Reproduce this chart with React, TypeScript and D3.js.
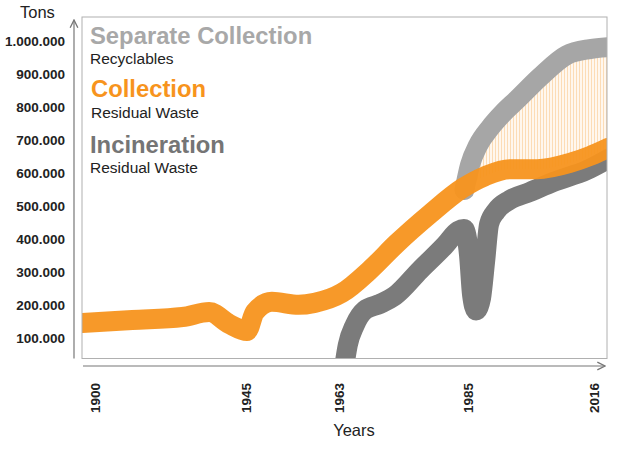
import * as d3 from 'd3';
import React from 'react';

const WIDTH = 620;
const HEIGHT = 449;
const FONT = '"Liberation Sans", Arial, sans-serif';

const yearTicks = [1900, 1945, 1963, 1985, 2016];
const tonTicks = [100000, 200000, 300000, 400000, 500000, 600000, 700000, 800000, 900000, 1000000];

// Collection – residual waste
const collectionYears = [1896, 1911, 1926, 1934, 1940, 1945.2, 1946.7, 1950, 1955.2, 1958.3, 1963.5, 1968.3, 1972.9, 1978.5, 1984.1, 1989.2, 1995.3, 2002, 2010.1, 2015, 2019.4];
const collectionTons = [147000, 156000, 165000, 180000, 144000, 123000, 180000, 211000, 202000, 208000, 238000, 308000, 389000, 477000, 556000, 592000, 613000, 613000, 632000, 653000, 677000];

// Incineration – residual waste
const incinerationYears = [1963.85, 1964.5, 1965.7, 1967.4, 1970, 1972.5, 1976.8, 1981.1, 1983.3, 1984.3, 1985.25, 1986, 1987, 1988.2, 1989.2, 1990.2, 1991.9, 1995.3, 2000.2, 2005.9, 2014.2, 2019.9];
const incinerationTons = [10000, 80000, 141000, 186000, 205000, 229000, 307000, 383000, 426000, 432000, 353000, 232000, 185000, 222000, 332000, 447000, 486000, 520000, 544000, 574000, 610000, 647000];

// Separate collection – recyclables
const separateYears = [1984.4, 1985.5, 1987.5, 1990.4, 1993.6, 1997, 2002.7, 2009.3, 2015, 2019.9];
const separateTons = [550000, 626000, 686000, 738000, 783000, 823000, 892000, 959000, 977000, 983000];

const ORANGE = '#f7941d';
const DARK = '#7b7b7b';
const LIGHT = '#a6a6a6';

type Pt = [number, number];
const zip = (xs: number[], ys: number[]): Pt[] => xs.map((x, i) => [x, ys[i]]);

export default function App() {
  const box = { left: 82, top: 17, right: 607, bottom: 358.5 };

  const x = d3.scaleLinear().domain(yearTicks).range([95.5, 246, 339, 468, 594]);
  const y = d3.scaleLinear().domain([100000, 1000000]).range([338.5, 41.5]);
  const fmt = (v: number) => d3.format(',')(v).replace(/,/g, '.');

  const line = d3
    .line<Pt>()
    .x(d => x(d[0]))
    .y(d => y(d[1]))
    .curve(d3.curveMonotoneX);

  const areaBelow = d3
    .area<Pt>()
    .x(d => x(d[0]))
    .y0(box.bottom + 20)
    .y1(d => y(d[1]))
    .curve(d3.curveMonotoneX);

  const collection = zip(collectionYears, collectionTons);
  const incineration = zip(incinerationYears, incinerationTons);
  const separate = zip(separateYears, separateTons);

  return (
    <svg
      width={WIDTH}
      height={HEIGHT}
      style={{ position: 'absolute', left: 0, top: 0, background: '#fff' }}
      fontFamily={FONT}
    >
      <defs>
        <clipPath id="plotClip">
          <rect x={box.left} y={box.top} width={box.right - box.left} height={box.bottom - box.top} />
        </clipPath>
        <pattern id="stripes" width={3} height={6} patternUnits="userSpaceOnUse">
          <rect width={3} height={6} fill="#fff7ee" />
          <rect width={1} height={6} fill="#fcdcb6" />
        </pattern>
        <marker id="arrow" viewBox="0 0 10 10" refX={9} refY={5} markerWidth={8} markerHeight={8} orient="auto">
          <path d="M1,1 L9,5 L1,9" fill="none" stroke="#777" strokeWidth={1.4} />
        </marker>
      </defs>

      <text x={20} y={18} fontSize={16.5} fill="#222">Tons</text>

      {tonTicks.map(t => (
        <text key={t} x={65} y={y(t)} dy="0.35em" textAnchor="end" fontSize={13.5} fontWeight="bold" fill="#222">
          {fmt(t)}
        </text>
      ))}

      <g clipPath="url(#plotClip)">
        <path d={areaBelow(separate) || ''} fill="url(#stripes)" />
        <path d={areaBelow(collection) || ''} fill="#fff" />
        <path d={line(separate) || ''} fill="none" stroke={LIGHT} strokeWidth={20} strokeLinecap="round" strokeLinejoin="round" />
        <path d={line(incineration) || ''} fill="none" stroke={DARK} strokeWidth={20} strokeLinecap="round" strokeLinejoin="round" />
        <path d={line(collection) || ''} fill="none" stroke={ORANGE} strokeWidth={20} strokeLinecap="round" strokeLinejoin="round" opacity={0.95} />
      </g>

      <rect
        x={box.left}
        y={box.top}
        width={box.right - box.left}
        height={box.bottom - box.top}
        fill="none"
        stroke="#b0b0b0"
        strokeWidth={1}
      />

      <line x1={74} y1={box.bottom} x2={74} y2={20} stroke="#777" strokeWidth={1.2} markerEnd="url(#arrow)" />
      <line x1={83} y1={366} x2={605} y2={366} stroke="#777" strokeWidth={1.2} markerEnd="url(#arrow)" />

      <text x={90} y={44} fontSize={23.8} fontWeight="bold" fill="#a8a8a8">Separate Collection</text>
      <text x={90} y={64} fontSize={15.5} fill="#222">Recyclables</text>
      <text x={91} y={97} fontSize={23.8} fontWeight="bold" fill={ORANGE}>Collection</text>
      <text x={91} y={118} fontSize={15.5} fill="#222">Residual  Waste</text>
      <text x={90} y={153} fontSize={23.8} fontWeight="bold" fill="#757575">Incineration</text>
      <text x={90} y={173} fontSize={15.5} fill="#222">Residual  Waste</text>

      {yearTicks.map(t => (
        <text
          key={t}
          transform={`translate(${x(t)},383) rotate(-90)`}
          dy="0.35em"
          textAnchor="end"
          fontSize={13.5}
          fontWeight="bold"
          fill="#222"
        >
          {t}
        </text>
      ))}

      <text x={354} y={436} textAnchor="middle" fontSize={16.5} fill="#222">Years</text>
    </svg>
  );
}
